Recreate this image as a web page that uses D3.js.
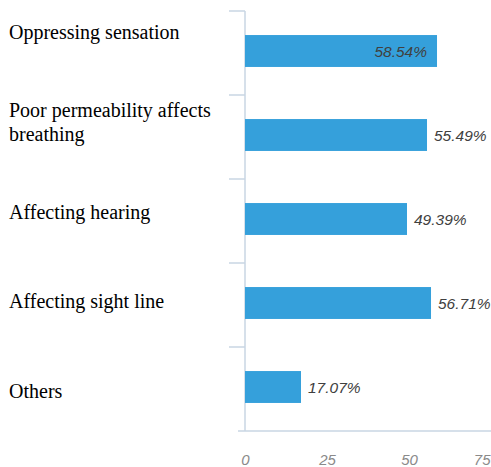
<!DOCTYPE html>
<html>
<head>
<meta charset="utf-8">
<script src="https://cdn.jsdelivr.net/npm/d3@7"></script>
<style>
  html, body { margin: 0; padding: 0; background: #fff; }
  svg { display: block; }
</style>
</head>
<body>
<svg id="chart" width="491" height="467"></svg>
<script>
const categories = [
  "Oppressing sensation",
  "Poor permeability affects breathing",
  "Affecting hearing",
  "Affecting sight line",
  "Others"
];
const labelLines = [
  ["Oppressing sensation"],
  ["Poor permeability affects", "breathing"],
  ["Affecting hearing"],
  ["Affecting sight line"],
  ["Others"]
];
const values = [58.54, 55.49, 49.39, 56.71, 17.07];
const xTicks = [0, 25, 50, 75];

const W = 491, H = 467;
const svg = d3.select("#chart");

const x = d3.scaleLinear().domain([0, 75]).range([245, 491]);
const y = d3.scaleBand().domain(categories).range([11, 431]).padding(0);
const yLabel = d3.scalePoint().domain(categories).range([39, 398]);

const axisColor = "#c9d6e3";
const barColor = "#35a0db";
const barH = y.bandwidth() * 0.38;
const barOff = (y.bandwidth() - barH) / 2 - 2;
const valueFont = "'Liberation Sans', Arial, sans-serif";

// y axis with ticks at band boundaries
const yAxisG = svg.append("g");
yAxisG.append("line")
  .attr("x1", x(0)).attr("x2", x(0))
  .attr("y1", y.range()[0]).attr("y2", y.range()[1])
  .attr("stroke", axisColor).attr("stroke-width", 1.5);
const boundaries = categories.map(c => y(c));
yAxisG.selectAll("line.tick").data(boundaries).join("line")
  .attr("class", "tick")
  .attr("x1", x(0) - 16).attr("x2", x(0))
  .attr("y1", d => d).attr("y2", d => d)
  .attr("stroke", axisColor).attr("stroke-width", 1.5);

// x axis
const xAxisG = svg.append("g").attr("transform", `translate(0,${y.range()[1]})`)
  .call(d3.axisBottom(x).tickValues(xTicks).tickSize(0).tickPadding(23).tickFormat(d3.format("d")));
xAxisG.select(".domain").remove();
xAxisG.append("line")
  .attr("x1", x(0) - 7).attr("x2", W)
  .attr("y1", 0).attr("y2", 0)
  .attr("stroke", axisColor).attr("stroke-width", 1.5);
xAxisG.selectAll(".tick text")
  .attr("fill", "#8a8a8a")
  .attr("text-anchor", (d, i) => i === xTicks.length - 1 ? "end" : "middle")
  .attr("dx", (d, i) => i === xTicks.length - 1 ? "-1" : "0")
  .style("font-family", valueFont)
  .style("font-style", "italic")
  .style("font-weight", "300")
  .style("font-size", "15px");

// bars
svg.append("g").selectAll("rect").data(values).join("rect")
  .attr("x", x(0))
  .attr("y", (d, i) => y(categories[i]) + barOff)
  .attr("width", d => x(d) - x(0))
  .attr("height", barH)
  .attr("fill", barColor);

// value labels
const vl = svg.append("g").selectAll("text").data(values).join("text")
  .attr("y", (d, i) => y(categories[i]) + barOff + barH / 2)
  .attr("dy", "0.36em")
  .attr("fill", "#404040")
  .style("font-family", valueFont)
  .style("font-style", "italic")
  .style("font-size", "15.5px")
  .text(d => d.toFixed(2) + "%");
vl.each(function(d) {
  const w = this.getComputedTextLength();
  const t = d3.select(this);
  if (x(d) + 7 + w > W) t.attr("x", x(d) - 10).attr("text-anchor", "end");
  else t.attr("x", x(d) + 7).attr("text-anchor", "start");
});

// category labels
const cl = svg.append("g").selectAll("text").data(categories).join("text")
  .attr("x", 9)
  .attr("fill", "#000")
  .style("font-family", "'Liberation Serif', 'Times New Roman', serif")
  .style("font-size", "20px");
cl.each(function(c, i) {
  const lines = labelLines[i];
  const lh = 24;
  const base = yLabel(c) - (lines.length - 1) * lh / 2;
  d3.select(this).selectAll("tspan").data(lines).join("tspan")
    .attr("x", 9)
    .attr("y", (l, j) => base + j * lh)
    .text(l => l);
});
</script>
</body>
</html>
